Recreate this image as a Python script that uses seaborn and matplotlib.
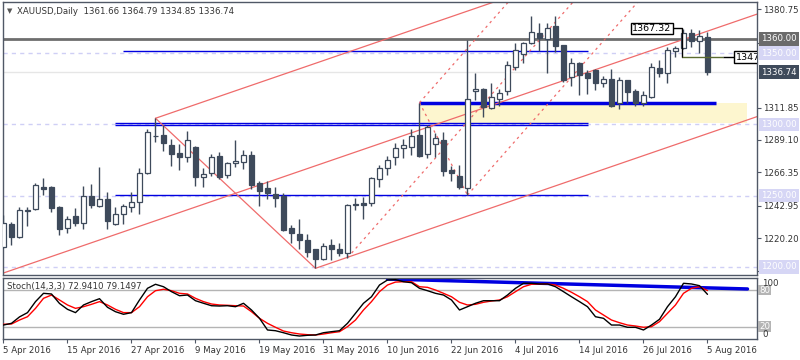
import numpy as np
import pandas as pd
import matplotlib
matplotlib.use("Agg")
import matplotlib.pyplot as plt
import matplotlib.transforms as mtrans
import seaborn as sns

# XAUUSD daily candles, 5 Apr 2016 .. 5 Aug 2016
opens = [1214.1, 1230.1, 1221.2, 1239.2, 1240.8, 1256.1, 1256.1, 1241.8, 1227.1, 1235.5,
         1231.0, 1249.7, 1242.7, 1247.6, 1230.3, 1237.3, 1242.2, 1245.3, 1265.6, 1291.6,
         1292.5, 1285.5, 1280.1, 1277.3, 1284.1, 1263.3, 1265.6, 1277.8, 1264.3, 1272.7,
         1273.8, 1278.5, 1258.6, 1255.3, 1250.9, 1249.9, 1227.3, 1222.8, 1218.8, 1212.3,
         1205.3, 1215.1, 1212.3, 1209.9, 1244.1, 1244.6, 1244.6, 1261.4, 1269.2, 1276.9,
         1283.2, 1284.3, 1292.5, 1279.0, 1286.0, 1289.0, 1268.0, 1263.8, 1255.1, 1323.4,
         1324.6, 1311.3, 1317.6, 1323.4, 1340.5, 1349.2, 1356.9, 1363.9, 1359.7, 1369.0,
         1355.7, 1333.0, 1342.9, 1336.3, 1338.2, 1328.8, 1331.6, 1314.8, 1331.1, 1323.6,
         1315.2, 1319.4, 1339.3, 1335.8, 1351.5, 1353.4, 1363.9, 1358.5, 1361.66]
highs = [1236.4, 1231.3, 1242.2, 1242.2, 1258.6, 1262.2, 1256.7, 1242.5, 1235.7, 1241.1,
         1256.7, 1258.1, 1269.9, 1252.7, 1241.8, 1244.3, 1252.7, 1269.2, 1296.5, 1304.3,
         1299.5, 1289.7, 1286.2, 1295.3, 1284.6, 1269.2, 1279.2, 1280.6, 1273.6, 1289.0,
         1282.0, 1281.5, 1260.5, 1260.5, 1255.8, 1251.8, 1229.6, 1233.6, 1222.8, 1212.8,
         1217.0, 1219.5, 1216.5, 1243.9, 1248.3, 1248.8, 1263.3, 1271.5, 1277.8, 1286.7,
         1289.5, 1296.5, 1315.2, 1299.5, 1293.7, 1294.4, 1270.8, 1271.3, 1359.2, 1335.8,
         1325.3, 1328.8, 1324.6, 1344.7, 1357.3, 1358.0, 1376.0, 1370.9, 1370.9, 1376.0,
         1356.0, 1346.4, 1344.0, 1338.2, 1338.6, 1333.9, 1338.6, 1333.0, 1331.5, 1324.6,
         1323.6, 1343.3, 1345.2, 1354.5, 1355.0, 1367.3, 1366.7, 1366.2, 1364.79]
lows = [1213.5, 1215.3, 1220.5, 1228.7, 1240.2, 1250.4, 1238.7, 1222.6, 1224.0, 1228.9,
        1226.8, 1241.3, 1242.2, 1226.8, 1229.2, 1230.3, 1238.7, 1236.9, 1265.0, 1287.4,
        1281.3, 1271.0, 1268.0, 1273.8, 1256.7, 1256.2, 1264.0, 1261.5, 1262.6, 1270.3,
        1268.5, 1254.9, 1242.9, 1247.8, 1242.2, 1225.4, 1217.0, 1212.3, 1207.1, 1199.0,
        1204.8, 1204.8, 1207.6, 1206.4, 1239.7, 1233.8, 1243.0, 1256.2, 1264.3, 1271.5,
        1276.2, 1278.5, 1276.9, 1276.2, 1277.3, 1263.8, 1260.3, 1254.4, 1250.4, 1317.1,
        1305.4, 1310.5, 1312.9, 1320.8, 1338.2, 1342.9, 1356.5, 1351.5, 1335.8, 1351.0,
        1329.9, 1326.9, 1320.6, 1321.3, 1324.1, 1326.0, 1312.4, 1310.6, 1315.2, 1312.9,
        1312.9, 1318.3, 1333.0, 1328.8, 1347.5, 1353.0, 1354.5, 1350.0, 1334.85]
closes = [1230.6, 1221.2, 1239.9, 1239.6, 1257.2, 1254.9, 1241.5, 1226.8, 1233.6, 1231.0,
          1249.7, 1243.6, 1247.4, 1232.4, 1237.3, 1242.5, 1245.3, 1265.6, 1294.4, 1292.0,
          1286.7, 1279.0, 1277.3, 1288.8, 1263.3, 1265.2, 1276.9, 1263.3, 1272.7, 1274.3,
          1278.5, 1257.7, 1253.4, 1252.0, 1248.5, 1225.9, 1223.5, 1219.0, 1210.6, 1205.3,
          1214.6, 1212.3, 1209.9, 1243.2, 1243.5, 1243.2, 1262.2, 1269.2, 1275.0, 1283.2,
          1285.3, 1291.8, 1278.0, 1297.9, 1290.2, 1267.5, 1265.6, 1256.3, 1317.8, 1324.8,
          1312.0, 1319.3, 1321.9, 1341.4, 1352.2, 1356.9, 1364.6, 1360.8, 1367.4, 1355.2,
          1331.1, 1342.9, 1334.6, 1332.7, 1328.8, 1332.0, 1312.9, 1331.1, 1322.9, 1315.2,
          1320.6, 1340.0, 1335.8, 1352.2, 1353.4, 1364.4, 1358.5, 1362.0, 1336.74]

# Stochastic(14,3,3): %K (black) and %D (red)
stoch_k = [22.7, 25.5, 36, 43, 61, 74.6, 73.5, 58, 48.4, 43, 55.5, 61, 65.8, 51.7, 44.5,
           40.3, 43, 63.7, 82.8, 89.4, 85.4, 77.3, 70.7, 71.8, 62.5, 58.3, 54.3, 53.8, 54.3,
           52.7, 58.3, 47.3, 33.7, 14.6, 13.4, 10.1, 6.4, 4.7, 5.9, 6.4, 10.1, 11.8, 13.4,
           25.5, 41.9, 58.3, 69, 88.2, 96.4, 97, 93.6, 92, 82.8, 78.9, 74.6, 71.8, 63.7, 47.3,
           52.7, 58.3, 62.5, 62.5, 62.5, 71.8, 82.8, 91, 91, 89.9, 89.9, 85.4, 77.3, 69, 61,
           52.7, 36.3, 33.7, 22.7, 22.7, 19, 19, 14.6, 22.7, 32.1, 52.7, 69, 91, 89.9, 87.1,
           72.94]
stoch_d = [23.9, 24.4, 30.9, 36.3, 50, 66.4, 71.8, 63.7, 55.5, 50, 52.7, 56.6, 61, 55.5, 48.4,
           43, 43, 52.7, 69, 78.9, 81.2, 78.9, 74.6, 73.5, 66.4, 61, 57.1, 55.5, 55, 54.3,
           53.8, 44.5, 33.7, 25.5, 19, 12.9, 10.1, 8, 6.9, 6.4, 8, 10.1, 11.8, 20, 30.9, 47.3,
           61, 77.3, 88.2, 93, 93.6, 93.6, 85.4, 84.4, 80, 74.6, 69, 59.9, 55.5, 56.6, 59.9,
           62, 63.7, 69, 77.3, 85.4, 89.4, 89.9, 89.9, 88.2, 82.8, 76.3, 69, 61, 47.3, 39.1,
           30.9, 26.5, 22.7, 21.1, 19, 20, 28.2, 41.9, 55.5, 74.6, 82.8, 85.4, 79.15]

date_labels = ["5 Apr 2016", "15 Apr 2016", "27 Apr 2016", "9 May 2016", "19 May 2016",
               "31 May 2016", "10 Jun 2016", "22 Jun 2016", "4 Jul 2016", "14 Jul 2016",
               "26 Jul 2016", "5 Aug 2016"]
price_ticks = [1380.75, 1357.35, 1311.85, 1289.10, 1266.35, 1242.95, 1220.20, 1197.45]

# chart objects: pitchfork anchors (bar index, price)
fork1_idx = [-4, 19, 39]
fork1_price = [1188.0, 1304.3, 1199.0]
fork2_idx = [43, 52, 58]
fork2_price = [1206.4, 1315.2, 1250.4]
level_prices = [1350, 1300, 1250, 1200]
stoch_trend_idx = [48, 93]
stoch_trend_val = [98, 81.7]

candle_c = "#3e4a5b"
spine_c = "#505866"
red_c = "#ef6b6b"
blue_c = "#0000e0"
lav_c = "#cfcff5"

sns.set_theme(style="white")
plt.rcParams['font.family'] = ['DejaVu Sans']

W, H = 800, 360
fig = plt.figure(figsize=(8, 3.6), dpi=100)


def px_box(x0, y0, x1, y1):
    return [x0 / W, 1 - y1 / H, (x1 - x0) / W, (y1 - y0) / H]


ax = fig.add_axes(px_box(2.5, 2, 757, 275))
ax2 = fig.add_axes(px_box(2.5, 277.8, 757, 338.9))

df = pd.DataFrame({"o": opens, "h": highs, "l": lows, "c": closes,
                   "k": stoch_k, "d": stoch_d})
df["i"] = np.arange(len(df))
n = len(df)

# --- main panel ---
ax.set_xlim(-0.125, 94.19)
ax.set_ylim(1194.3, 1385.9)

# zone + levels
ax.fill_between([52, 92.9], 1301.2, 1315.2, color="#fdf6cf", lw=0, zorder=1)
for lv in level_prices:
    ax.axhline(lv, color=lav_c, lw=1, ls=(0, (3, 3)), zorder=1.2)
ax.axhline(1336.74, color="#e6e6e6", lw=1, zorder=1.1)
ax.axhline(1360.0, color="#6e6e6e", lw=2, zorder=1.5)
ax.hlines(1351.2, 15.0, 73.1, color=blue_c, lw=1, zorder=1.5)
ax.hlines([1300.75, 1299.35], 13.9, 73.1, color=blue_c, lw=1, zorder=1.5)
ax.hlines(1250.2, 13.9, 73.1, color=blue_c, lw=1, zorder=1.5)
ax.hlines(1315.2, 52, 89.1, color=blue_c, lw=2.5, zorder=1.6)


def pitchfork(a, idx, price, **style):
    mid_i = (idx[1] + idx[2]) / 2
    mid_p = (price[1] + price[2]) / 2
    slope = (mid_p - price[0]) / (mid_i - idx[0])
    xe = 110
    for i0, p0 in zip(idx, price):
        a.plot([i0, xe], [p0, p0 + slope * (xe - i0)], **style)
    a.plot(idx[1:], price[1:], **style)


pitchfork(ax, fork1_idx, fork1_price, color=red_c, lw=0.9, zorder=2)
pitchfork(ax, fork2_idx, fork2_price, color=red_c, lw=0.9, ls=(0, (2, 3)), zorder=2)

# candles
up = df.c >= df.o
ax.vlines(df.i, df.l, df.h, color=candle_c, lw=1, zorder=4)
body_lo = np.minimum(df.o, df.c)
body_h = np.maximum((df.c - df.o).abs(), 0.4)
ax.bar(df.i, body_h, bottom=body_lo, width=0.6,
       color=np.where(up, "white", candle_c), edgecolor=candle_c, linewidth=0.9, zorder=5)

# price label objects
ax.text(81.06, 1367.32, "1367.32", ha="center", va="center", fontsize=6.8, color="black",
        bbox=dict(boxstyle="square,pad=0.15", fc="white", ec="black", lw=1), zorder=7)
ax.plot([83.7, 84.85, 84.85], [1367.32, 1367.32, 1347.07], color="black", lw=1, zorder=6)
ax.hlines(1347.07, 84.85, 89.9, color="#5b6b30", lw=1, zorder=6)
ax.hlines(1347.07, 89.9, 91.3, color="black", lw=1, zorder=6)
ax.text(91.55, 1347.07, "1347.07", ha="left", va="center", fontsize=6.8, color="black",
        bbox=dict(boxstyle="square,pad=0.15", fc="white", ec="black", lw=1),
        clip_on=True, zorder=7)

ax.set_xticks([])
ax.yaxis.tick_right()
ax.set_yticks(price_ticks)
ax.set_yticklabels([f"{v:.2f}" for v in price_ticks])
ax.tick_params(axis="y", right=True, left=False, length=3, width=0.8, color=spine_c,
               labelsize=6.2, labelcolor="#333333", pad=1)
for s in ax.spines.values():
    s.set_color(spine_c)
    s.set_linewidth(1)

tr = mtrans.blended_transform_factory(ax.transAxes, ax.transData)


def tag(y, text, fc):
    ax.text(1.005, y, text, transform=tr, ha="left", va="center", fontsize=6.2,
            color="white", bbox=dict(boxstyle="square,pad=0.25", fc=fc, ec="none"),
            clip_on=False, zorder=8)


tag(1360.0, "1360.00", "#6b6b6b")
tag(1350.0, "1350.00", "#d6d6f5")
tag(1336.74, "1336.74", "#3f4b5b")
tag(1300.0, "1300.00", "#d6d6f5")
tag(1250.0, "1250.00", "#d6d6f5")
tag(1200.0, "1200.00", "#d6d6f5")

# --- stochastic panel ---
ax2.set_xlim(-0.125, 94.19)
ax2.set_ylim(0, 100)
ax2.axhline(80, color="#b4b4b4", lw=1, zorder=1)
ax2.axhline(20, color="#b4b4b4", lw=1, zorder=1)
ax2.plot(stoch_trend_idx, stoch_trend_val, color=blue_c, lw=2.5, zorder=2)
sns.lineplot(data=df, x="i", y="d", color="red", lw=1, ax=ax2, zorder=3)
sns.lineplot(data=df, x="i", y="k", color="black", lw=1, ax=ax2, zorder=4)
ax2.set_xlabel("")
ax2.set_ylabel("")
ax2.set_yticks([])
ax2.set_xticks(range(0, n, 8))
ax2.set_xticklabels(date_labels, ha="left")
ax2.tick_params(axis="x", bottom=True, length=3, width=0.8, color=spine_c,
                labelsize=6.2, labelcolor="#333333", pad=2)
for s in ax2.spines.values():
    s.set_color(spine_c)
    s.set_linewidth(1)

tr2 = mtrans.blended_transform_factory(ax2.transAxes, ax2.transData)
for lv in (80, 20):
    ax2.text(1.003, lv, str(lv), transform=tr2, ha="left", va="center", fontsize=6.2,
             color="white", bbox=dict(boxstyle="square,pad=0.1", fc="#b4b4b4", ec="none"),
             clip_on=False, zorder=6)
ax2.text(1.007, 91, "100", transform=tr2, ha="left", va="center", fontsize=6.2,
         color="#333333", clip_on=False, zorder=7)
ax2.text(1.007, 7, "0", transform=tr2, ha="left", va="center", fontsize=6.2,
         color="#333333", clip_on=False, zorder=7)

# headers
fig.text(7 / W, 1 - 11 / H, "\u25bc", fontsize=5, color="#555555", va="center")
fig.text(17 / W, 1 - 11 / H, "XAUUSD,Daily  1361.66 1364.79 1334.85 1336.74",
         fontsize=6.2, color="#333333", va="center")
fig.text(7 / W, 1 - 286 / H, "Stoch(14,3,3) 72.9410 79.1497",
         fontsize=6.2, color="#333333", va="center")

fig.savefig("out.png", dpi=100, facecolor="white")
